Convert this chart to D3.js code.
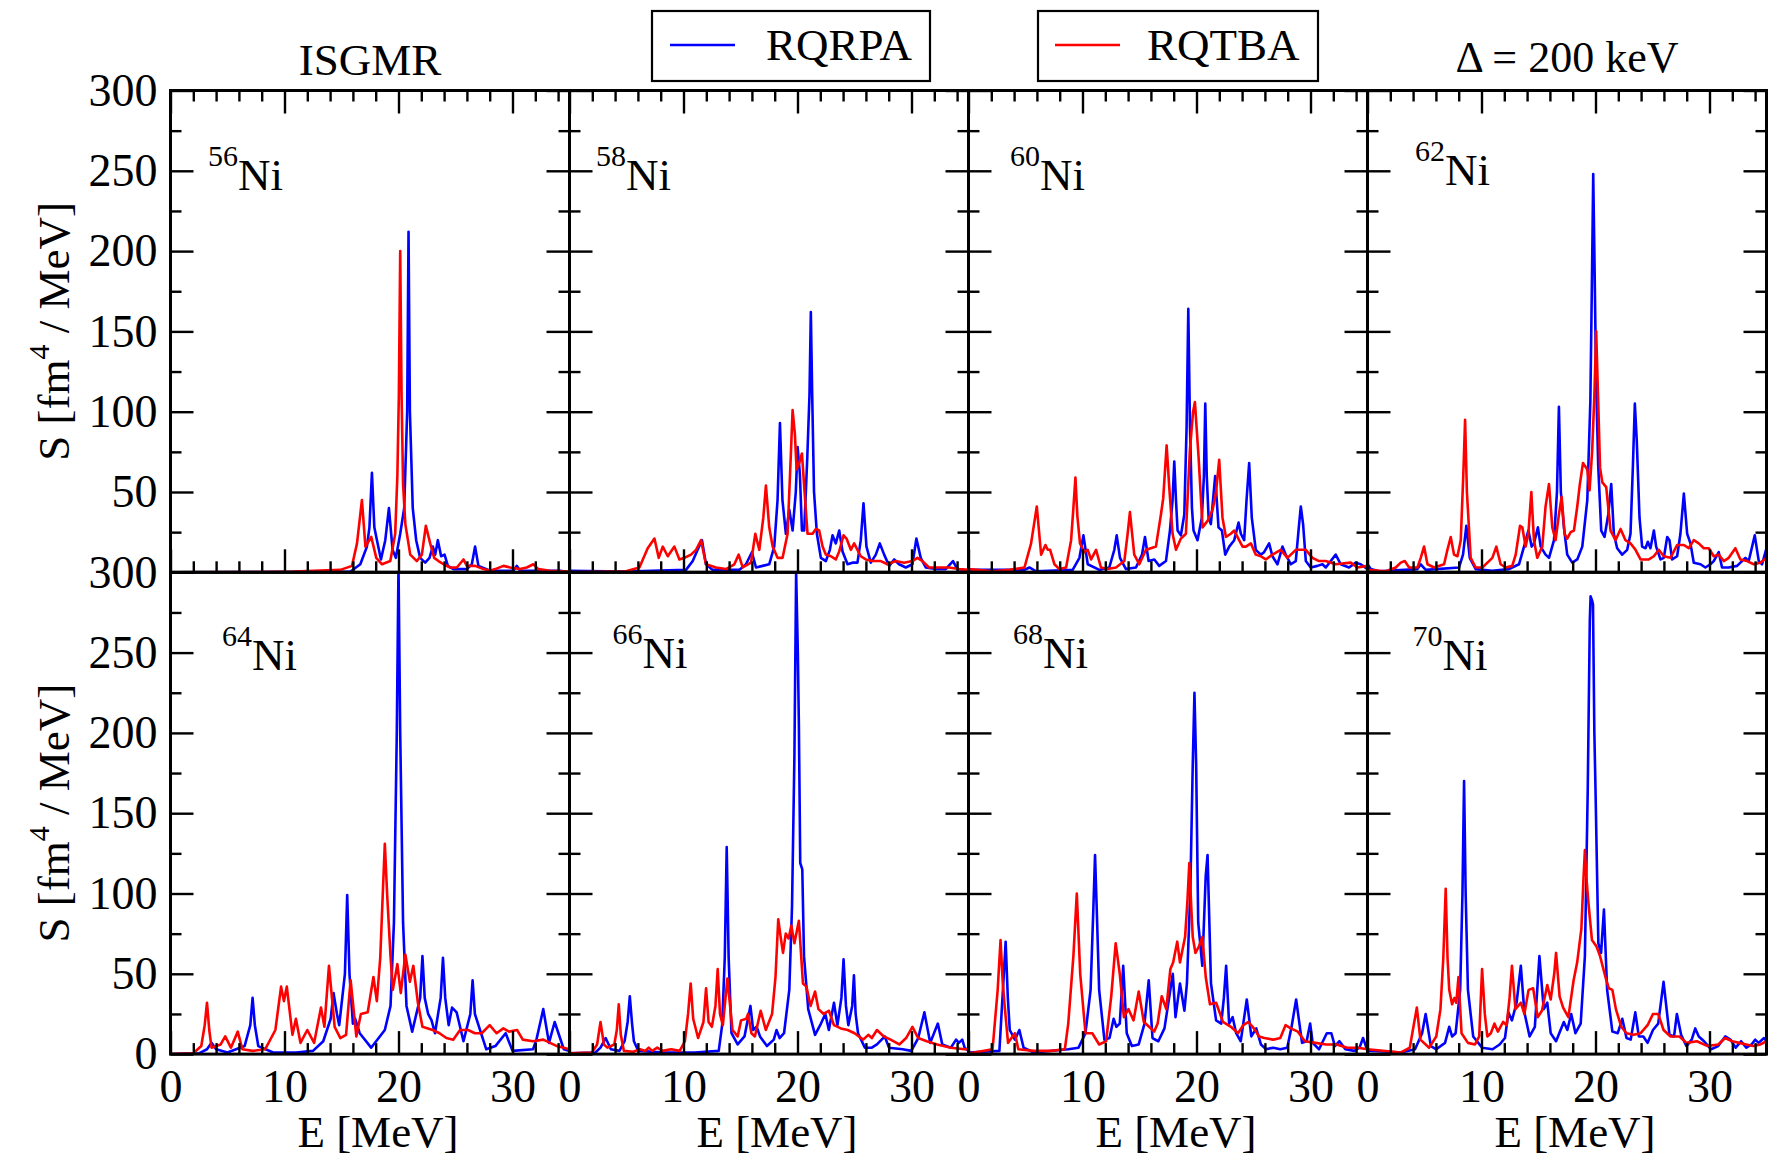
<!DOCTYPE html>
<html>
<head>
<meta charset="utf-8">
<script src="https://cdn.jsdelivr.net/npm/d3@7"></script>
<style>
  body { margin: 0; background: #fff; }
  svg { display: block; }
  text { font-family: "Liberation Serif", "Times New Roman", Times, serif; fill: #000; }
</style>
</head>
<body>
<svg id="chart" width="1779" height="1157"></svg>
<script>
// ---- data: ISGMR strength functions S(E) [fm^4/MeV], E in MeV ----
const nuclei = ["56", "58", "60", "62", "64", "66", "68", "70"];
const seriesNames = ["RQRPA", "RQTBA"];
const xTickValues = [0, 10, 20, 30];
const yTickTop = [50, 100, 150, 200, 250, 300];
const yTickBottom = [0, 50, 100, 150, 200, 250, 300];

const ni56_rqrpa = [[0,0],[14,0.3],[15.8,0.5],[16.65,5],[17.23,16],[17.45,28],[17.67,62],[17.88,28],[18.11,20],[18.46,8],[18.84,20],[19.16,40],[19.48,14],[19.77,9],[20.15,24],[20.5,40],[20.76,100],[20.88,212],[21.0,100],[21.25,40],[21.55,20],[21.9,9],[22.34,6],[22.72,9],[23.01,16],[23.22,11],[23.45,20],[23.74,10],[24.04,11],[24.33,4],[24.82,2],[25.99,2],[26.43,5],[26.72,16],[27.01,4],[28.04,1],[30.08,1],[30.37,4],[30.67,1],[34.17,1],[35,0]];
const ni56_rqtba = [[0,0],[8,0.2],[10.8,0.4],[14.9,1.5],[15.92,4],[16.36,18],[16.79,45],[17.1,16],[17.61,22],[18.05,9],[18.55,5],[19.28,7],[19.71,24],[19.9,60],[20.03,110],[20.15,200],[20.27,110],[20.4,55],[20.6,30],[21.03,11],[21.61,7],[22.05,11],[22.4,29],[22.78,18],[23.13,9],[23.51,7],[23.95,5],[24.53,3],[25.12,3],[25.7,8],[25.99,4],[26.72,4],[27.45,2],[28.04,1],[28.48,2],[29.21,4],[29.79,3],[30.67,2],[31.25,3],[31.83,5],[32.27,2],[33.29,1],[35,0.4]];

const ni58_rqrpa = [[0,1],[4.96,0.4],[10.22,1.5],[10.81,7],[11.24,14],[11.62,20],[11.97,5],[12.56,1.5],[14.89,1.5],[15.48,5],[16.0,12.5],[16.36,3],[16.94,4],[17.52,5],[17.96,16],[18.25,45],[18.46,93],[18.68,45],[18.98,24],[19.28,39],[19.57,26],[19.85,50],[20.01,78],[20.21,61],[20.39,26],[20.59,26],[20.85,70],[21.05,110],[21.17,162],[21.29,110],[21.45,50],[21.7,24],[22.05,9],[22.49,7],[22.84,14],[23.07,23],[23.36,18],[23.66,26],[23.95,13],[24.39,5],[24.82,6],[25.26,6],[25.55,20],[25.79,43],[26.05,16],[26.43,6],[26.87,11],[27.22,18],[27.6,11],[28.04,4],[28.48,8],[28.91,5],[29.5,3],[30.08,5],[30.43,21],[30.81,9],[31.25,3],[32.13,2],[33.0,2],[33.64,7],[34.02,2],[35,1]];
const ni58_rqtba = [[0,0],[4.96,0.6],[6.13,3],[6.86,15],[7.45,21],[7.83,9],[8.18,16],[8.62,10],[9.2,16],[9.64,8],[10.08,9],[10.66,11],[11.1,14],[11.54,20],[11.97,5],[12.85,3],[13.73,2],[14.46,5],[14.84,11],[15.19,3],[15.92,6],[16.3,24],[16.65,14],[17.0,34],[17.23,54],[17.52,28],[17.82,16],[18.25,9],[18.69,9],[19.13,24],[19.42,74],[19.57,101],[19.77,86],[19.92,64],[20.15,68],[20.39,74],[20.59,53],[20.88,24],[21.32,24],[21.61,27],[21.9,26],[22.2,16],[22.49,11],[22.93,10],[23.36,8],[23.66,13],[24.04,23],[24.3,21],[24.68,14],[24.97,18],[25.26,14],[25.55,10],[25.99,8],[26.58,7],[27.31,7],[27.89,5],[28.62,7],[29.35,6],[30.08,7],[30.52,9],[30.96,7],[31.54,3],[32.42,3],[33.29,3],[34.17,2],[35,1.5]];

const ni60_rqrpa = [[0,1.5],[4.91,1.5],[5.34,3],[5.93,0.6],[9.14,1.5],[9.73,9],[10.08,23],[10.46,5],[11.48,1.5],[12.35,3],[12.79,14],[13.0,23],[13.29,9],[13.81,2],[14.69,3],[15.22,11],[15.48,22],[15.8,7],[16.3,8],[16.73,4],[17.32,7],[17.67,26],[17.9,45],[18.05,69],[18.2,45],[18.34,26],[18.63,23],[18.93,36],[19.13,90],[19.28,164],[19.43,90],[19.6,40],[19.74,26],[20.09,20],[20.47,34],[20.65,60],[20.77,105],[20.9,60],[21.06,34],[21.26,30],[21.64,60],[21.93,28],[22.23,26],[22.52,11],[22.87,16],[23.31,20],[23.69,31],[23.89,24],[24.18,20],[24.39,45],[24.62,68],[24.85,34],[25.2,14],[25.64,11],[25.93,12.5],[26.37,18],[26.66,10],[27.1,5],[27.54,16],[27.83,11],[28.27,5],[28.71,7],[29.0,30],[29.15,41],[29.35,30],[29.59,7],[30.02,3],[30.61,4],[31.05,5],[31.34,3],[32.21,11],[32.65,5],[33.38,3],[33.97,6],[34.4,5],[35,2]];
const ni60_rqtba = [[0,2],[2.13,0.6],[3.59,1.5],[4.91,3],[5.49,18],[5.99,41],[6.37,11],[6.75,17],[6.95,14],[7.16,14],[7.54,5],[7.97,2],[8.56,3],[9.0,20],[9.2,40],[9.38,59],[9.55,35],[9.78,18],[10.16,12.5],[10.46,14],[10.75,8],[11.19,14],[11.62,3],[12.21,2],[12.94,3],[13.67,7],[13.96,24],[14.16,37.5],[14.54,11],[14.98,5],[15.57,14],[16.0,15],[16.44,16],[16.88,36],[17.08,46],[17.38,79],[17.61,53],[17.9,24],[18.2,14],[18.63,21],[19.07,24],[19.42,76],[19.7,100],[19.86,106],[20.18,72],[20.53,28],[20.97,32],[21.41,39],[21.7,49],[21.99,70],[22.28,34],[22.58,22],[23.01,24],[23.31,26],[23.74,20],[24.04,16],[24.33,16],[24.77,18],[25.2,11],[25.64,10],[26.08,8],[26.66,11],[27.39,14],[27.98,9],[28.71,14],[29.59,14],[30.17,9],[30.75,7],[31.34,7],[32.21,5],[33.53,6],[34.11,3],[35,4]];

const ni62_rqrpa = [[0,5],[0.29,2],[1.02,0.6],[4.38,2],[4.67,5],[5.11,1.5],[8.03,3],[8.38,11],[8.67,29],[8.97,9],[9.49,2],[10.95,1],[12.41,2],[13.29,5],[13.73,16],[14.11,26],[14.4,16],[14.6,18],[14.95,28],[15.19,16],[15.62,11],[15.92,9],[16.36,20],[16.62,50],[16.79,103],[16.96,50],[17.23,28],[17.52,11],[17.96,6],[18.4,8],[18.84,16],[19.28,45],[19.55,107],[19.72,200],[19.8,248],[19.9,200],[20.05,120],[20.24,66],[20.5,26],[20.79,22],[21.12,36],[21.38,55],[21.61,24],[21.9,15],[22.34,11],[22.78,14],[23.07,24],[23.28,66],[23.45,105],[23.62,82],[23.86,34],[24.09,16],[24.39,15],[24.59,19],[24.82,15],[25.12,26],[25.32,16],[25.7,8],[25.99,9],[26.29,22],[26.49,20],[26.72,8],[27.16,10],[27.45,24],[27.75,49],[28.04,24],[28.33,18],[28.62,6],[29.21,5],[29.64,3],[30.08,5],[30.37,7],[30.81,12.5],[31.1,3],[31.69,3],[32.42,4],[33.15,9],[33.44,7],[33.97,23],[34.32,7],[34.61,5],[35,15]];
const ni62_rqtba = [[0,1.5],[1.61,0.6],[2.48,3],[2.92,6],[3.27,7],[3.65,3],[4.38,3],[4.67,9],[4.96,16],[5.26,5],[5.84,3],[6.72,5],[7.01,14],[7.3,22],[7.59,11],[7.89,10],[8.18,20],[8.4,60],[8.56,95],[8.72,50],[9.05,9],[9.49,3],[10.08,3],[10.66,7],[10.95,9],[11.3,16],[11.68,5],[12.12,3],[12.7,4],[13.0,11],[13.38,29],[13.58,28],[13.87,16],[14.11,24],[14.37,50],[14.6,20],[14.89,9],[15.33,16],[15.62,41],[15.92,55],[16.21,28],[16.5,20],[16.79,36],[17.03,47],[17.29,24],[17.52,21],[17.82,25],[18.11,26],[18.4,41],[18.63,55],[18.9,68],[19.28,64],[19.48,51],[19.71,76],[19.9,110],[20.06,150],[20.22,110],[20.4,65],[20.6,56],[20.94,53],[21.32,26],[21.76,20],[22.2,27],[22.63,20],[23.07,18],[23.51,14],[23.95,8],[24.68,8],[25.12,10],[25.55,14],[25.99,10],[26.58,9],[27.16,17],[27.75,17],[28.18,15],[28.62,20],[29.06,18],[29.5,15],[29.94,15],[30.37,10],[30.81,11],[31.25,7],[31.69,9],[32.27,15],[32.71,8],[33.29,7],[33.88,5],[34.46,6],[35,9]];

const ni64_rqrpa = [[0,0],[2.5,0.5],[3.2,3],[3.6,7],[4.0,3],[5,1],[6.5,5],[7.0,18],[7.2,35],[7.4,18],[7.7,5],[9,1],[11,1],[12.5,2],[13.4,8],[14.05,22],[14.3,38],[14.6,25],[14.8,18],[15.3,50],[15.5,99],[15.7,50],[16.0,19],[16.2,22],[16.6,13],[17.6,4],[18.8,15],[19.3,30],[19.6,82],[19.85,200],[20.0,305],[20.15,200],[20.4,82],[20.7,30],[21.2,14],[21.9,35],[22.1,61],[22.3,35],[22.6,25],[22.9,21],[23.2,13],[23.7,35],[23.9,60],[24.1,35],[24.4,18],[24.7,29],[25.1,26],[25.7,8],[26.3,25],[26.5,46],[26.7,25],[27.7,3],[28.5,5],[29.4,13],[30.0,2],[31.8,3],[32.1,9],[32.7,28],[33.2,7],[33.7,20],[34.5,3],[35,2]];
const ni64_rqtba = [[0,0],[2.0,0.5],[2.7,5],[3.0,18],[3.2,32],[3.4,15],[3.6,4],[4.4,6],[4.8,11],[5.3,4],[5.9,14],[6.3,3],[7.2,2],[8.3,3],[9.2,15],[9.7,42],[9.95,33],[10.2,42],[10.7,12],[11.0,22],[11.4,7],[12.0,15],[12.6,7],[13.2,29],[13.5,17],[13.9,55],[14.4,17],[14.9,10],[15.4,12],[15.8,46],[16.3,11],[16.7,25],[17.3,26],[17.8,48],[18.1,33],[18.4,60],[18.65,105],[18.8,131],[19.0,100],[19.3,61],[19.5,40],[19.9,56],[20.2,38],[20.6,62],[21.0,45],[21.3,55],[21.7,32],[22.1,17],[23.0,15],[23.6,13],[24.2,10],[24.8,9],[25.4,15],[26.1,15],[26.7,13],[27.3,13],[28.0,18],[28.6,13],[29.2,16],[29.7,14],[30.4,15],[30.9,9],[31.8,8],[32.7,9],[33.3,7],[33.9,5],[35,3]];

const ni66_rqrpa = [[0,0.5],[2.27,1],[2.72,4],[3.17,10],[3.63,3],[4.38,2],[4.83,8],[5.1,20],[5.29,36],[5.5,18],[5.65,8],[6.04,2],[8.31,1],[11.0,1],[13.09,2],[13.39,18],[13.62,60],[13.79,129],[13.96,60],[14.21,13],[14.75,6],[15.35,11],[15.87,30],[16.11,15],[16.41,17],[16.71,11],[17.32,5],[17.92,9],[18.16,15],[18.43,10],[18.82,13],[19.28,40],[19.52,92],[19.73,186],[19.88,300],[20.03,250],[20.12,206],[20.24,119],[20.42,115],[20.57,61],[20.94,28],[21.54,12],[21.99,18],[22.44,25],[22.75,15],[23.2,32],[23.5,18],[23.85,35],[24.04,59],[24.25,30],[24.46,18],[24.8,30],[24.95,49],[25.1,25],[25.31,13],[25.91,4],[26.52,4],[26.97,6],[27.66,11],[28.02,4],[29.23,3],[29.98,2],[30.59,10],[31.13,26],[31.64,7],[32.31,19],[32.7,6],[33.45,4],[33.91,9],[34.15,7],[34.45,9],[34.66,4],[35,2]];
const ni66_rqtba = [[0,0.5],[1.96,1],[2.42,6],[2.72,20],[3.02,6],[3.32,4],[3.93,6],[4.15,15],[4.32,31],[4.5,12],[4.77,2],[5.59,1.5],[6.19,3],[6.65,2],[6.95,4],[7.25,2],[7.7,4],[8.16,2],[8.91,3],[9.67,2],[10.12,8],[10.4,25],[10.63,44],[10.85,22],[11.28,10],[11.75,20],[11.98,41],[12.2,20],[12.49,17],[12.8,30],[13.0,53],[13.2,25],[13.45,18],[13.85,47],[14.3,15],[14.75,11],[15.05,21],[15.51,22],[15.66,25],[15.96,13],[16.26,11],[16.77,27],[17.22,15],[17.77,25],[18.07,48],[18.31,84],[18.52,73],[18.73,63],[18.97,75],[19.22,72],[19.46,80],[19.73,69],[20.12,83],[20.48,44],[20.78,42],[21.15,30],[21.54,39],[21.84,28],[22.29,25],[22.75,27],[23.2,18],[23.8,16],[24.4,15],[25.01,13],[25.76,9],[26.21,12],[26.52,10],[26.97,15],[27.57,11],[28.17,9],[28.93,6],[29.53,10],[30.08,17],[30.59,10],[31.34,8],[32.25,6],[33.45,4],[34.66,3],[35,3]];

const ni68_rqrpa = [[0,1],[2.71,2],[3.02,40],[3.26,70],[3.45,35],[3.62,15],[4.07,9],[4.46,15],[4.83,4],[5.73,1],[8.75,3],[9.65,4],[10.26,13],[10.71,40],[10.95,90],[11.1,124],[11.25,90],[11.46,40],[11.92,9],[12.37,10],[12.73,22],[12.97,17],[13.27,19],[13.57,55],[13.88,13],[14.33,5],[14.93,6],[15.44,19],[15.81,46],[16.14,10],[16.65,8],[17.19,16],[17.92,50],[18.16,23],[18.55,44],[18.94,27],[19.16,44],[19.46,102],[19.67,180],[19.82,225],[19.97,180],[20.15,82],[20.51,55],[20.81,111],[20.97,124],[21.27,44],[21.72,21],[22.17,19],[22.4,35],[22.6,55],[22.86,19],[23.17,23],[23.48,13],[23.88,8],[24.41,34],[24.81,11],[25.24,16],[25.65,6],[26.11,3],[26.73,4],[27.35,3],[27.96,4],[28.34,17],[28.74,34],[29.26,7],[29.66,8],[29.97,19],[30.19,7],[30.75,3],[31.43,13],[31.83,13],[32.14,5],[32.54,8],[33.06,3],[33.84,2],[34.3,4],[34.61,10],[35,2]];
const ni68_rqtba = [[0,0.3],[2.11,3],[2.56,40],[2.81,71],[3.0,45],[3.17,30],[3.47,7],[4.07,13],[4.37,3],[5.73,2],[7.24,2],[8.45,3],[8.75,19],[9.2,61],[9.5,100],[9.8,50],[10.26,13],[10.86,13],[11.46,6],[12.07,8],[12.52,36],[12.91,69],[13.27,50],[13.63,23],[14.03,28],[14.48,21],[14.93,39],[15.38,20],[15.84,17],[16.29,14],[16.59,19],[16.95,36],[17.35,28],[17.71,53],[17.95,57],[18.31,70],[18.55,57],[19.0,73],[19.2,95],[19.37,119],[19.55,90],[19.67,73],[19.91,63],[20.21,67],[20.51,73],[20.81,48],[21.18,31],[21.72,32],[22.32,20],[23.02,17],[23.64,13],[24.1,18],[24.56,20],[25.03,16],[25.49,11],[25.95,10],[26.73,9],[27.35,10],[27.81,18],[28.27,16],[28.89,14],[29.51,8],[30.44,7],[31.36,6],[32.29,6],[33.22,4],[34.15,4],[35,3]];

const ni70_rqrpa = [[0,2],[0.46,2],[2.94,1],[4.17,3],[4.79,13],[5.1,25],[5.56,5],[6.03,3],[6.8,7],[7.17,17],[7.42,11],[7.73,13],[8.13,40],[8.33,100],[8.47,170],[8.61,100],[8.81,40],[9.27,11],[10.05,4],[10.97,3],[11.59,6],[12.06,10],[12.36,26],[12.67,21],[13.08,32],[13.45,55],[13.76,26],[14.22,11],[14.68,17],[15.08,61],[15.46,28],[15.77,32],[16.07,13],[16.54,8],[17.22,20],[17.53,15],[17.87,25],[18.24,13],[18.7,19],[19.07,61],[19.32,165],[19.5,270],[19.57,285],[19.72,282],[19.78,280],[19.9,200],[20.0,165],[20.25,69],[20.49,63],[20.74,90],[21.02,40],[21.48,14],[21.95,13],[22.35,22],[22.72,10],[23.09,9],[23.49,26],[23.8,11],[24.2,11],[24.57,7],[25.04,15],[25.5,19],[25.97,45],[26.49,12],[26.89,11],[27.14,25],[27.51,12],[27.98,5],[28.44,9],[28.75,16],[29.06,11],[29.52,8],[30.14,3],[30.76,5],[31.38,11],[31.84,9],[32.3,4],[32.77,8],[33.23,4],[33.69,6],[34.0,9],[34.31,7],[34.78,10],[35,8]];
const ni70_rqtba = [[0,3],[2.94,1],[3.71,4],[4.08,19],[4.33,29],[4.64,9],[5.41,4],[6.03,11],[6.4,28],[6.65,60],[6.86,103],[7.02,60],[7.17,40],[7.42,31],[7.63,35],[7.79,32],[7.98,48],[8.25,13],[8.81,7],[9.43,6],[9.8,11],[10.05,53],[10.29,25],[10.51,11],[10.82,13],[11.13,19],[11.44,14],[11.9,20],[12.21,18],[12.46,35],[12.67,55],[12.98,28],[13.45,32],[13.76,25],[14.13,40],[14.53,41],[14.93,23],[15.3,27],[15.77,43],[16.07,34],[16.38,50],[16.54,63],[16.85,36],[17.16,29],[17.62,23],[18.08,46],[18.39,57],[18.76,78],[18.95,110],[19.07,127],[19.2,110],[19.38,94],[19.69,71],[20.09,67],[20.4,61],[20.87,48],[21.17,41],[21.48,40],[21.79,28],[22.26,17],[22.72,13],[23.34,12],[23.96,13],[24.57,18],[25.04,25],[25.5,25],[25.97,15],[26.58,11],[27.36,11],[27.98,7],[28.9,8],[29.83,5],[30.76,6],[31.38,10],[31.99,8],[32.61,7],[33.23,6],[33.85,5],[34.47,6],[35,8]];

const rqrpaSets = [ni56_rqrpa, ni58_rqrpa, ni60_rqrpa, ni62_rqrpa, ni64_rqrpa, ni66_rqrpa, ni68_rqrpa, ni70_rqrpa];
const rqtbaSets = [ni56_rqtba, ni58_rqtba, ni60_rqtba, ni62_rqtba, ni64_rqtba, ni66_rqtba, ni68_rqtba, ni70_rqtba];

// ---- layout ----
const FONT = '"Liberation Serif", "Times New Roman", Times, serif';
const left0 = 170.5, panelW = 399, top0 = 90.5, panelH = 481.8;
const labelPos = [[37.5, 99.5], [26.5, 99.5], [41.5, 99.5], [47.5, 94], [51.5, 98], [43, 96], [44.5, 96], [45, 98]];
const colors = { RQRPA: "#0000ff", RQTBA: "#ff0000" };
const tickFont = 46;

const svg = d3.select("#chart");
svg.append("rect").attr("width", 1779).attr("height", 1157).attr("fill", "#fff");

const line = (x, y) => d3.line().x(d => x(d[0])).y(d => y(d[1]));

nuclei.forEach((A, i) => {
  const col = i % 4, row = Math.floor(i / 4);
  const px = left0 + col * panelW, py = top0 + row * panelH;
  const x = d3.scaleLinear().domain([0, 35]).range([px, px + panelW]);
  const y = d3.scaleLinear().domain([0, 300]).range([py + panelH, py]);
  const g = svg.append("g").attr("class", "panel");

  const clipId = "clip" + A;
  svg.append("clipPath").attr("id", clipId)
    .append("rect").attr("x", px).attr("y", py).attr("width", panelW).attr("height", panelH);

  const curves = g.append("g").attr("clip-path", `url(#${clipId})`);
  curves.append("path").datum(rqrpaSets[i])
    .attr("d", line(x, y)).attr("fill", "none")
    .attr("stroke", colors.RQRPA).attr("stroke-width", 2.6).attr("stroke-linejoin", "round");
  curves.append("path").datum(rqtbaSets[i])
    .attr("d", line(x, y)).attr("fill", "none")
    .attr("stroke", colors.RQTBA).attr("stroke-width", 2.6).attr("stroke-linejoin", "round");

  const majorX = xTickValues, minorX = d3.range(2, 35, 2).filter(v => v % 10 !== 0);
  const majorY = yTickBottom, minorY = d3.range(25, 300, 50);
  const styleAxis = sel => {
    sel.select(".domain").remove();
    sel.selectAll(".tick line").attr("stroke", "#000").attr("stroke-width", 2.4);
    sel.selectAll("text").attr("font-family", FONT).attr("font-size", tickFont).attr("fill", "#000");
  };

  // bottom ticks (inward), labels on lower row only
  g.append("g").attr("transform", `translate(0,${py + panelH})`)
    .call(d3.axisBottom(x).tickValues(majorX).tickSize(-23).tickPadding(15)
      .tickFormat(row === 1 ? d3.format("d") : () => ""))
    .call(styleAxis);
  g.append("g").attr("transform", `translate(0,${py + panelH})`)
    .call(d3.axisBottom(x).tickValues(minorX).tickSize(-11).tickFormat(() => ""))
    .call(styleAxis);
  // top ticks on the upper row
  if (row === 0) {
    g.append("g").attr("transform", `translate(0,${py})`)
      .call(d3.axisTop(x).tickValues(majorX).tickSize(-23).tickFormat(() => ""))
      .call(styleAxis);
    g.append("g").attr("transform", `translate(0,${py})`)
      .call(d3.axisTop(x).tickValues(minorX).tickSize(-11).tickFormat(() => ""))
      .call(styleAxis);
  }
  // left and right ticks
  const yLabels = row === 0 ? yTickTop : yTickBottom;
  g.append("g").attr("transform", `translate(${px},0)`)
    .call(d3.axisLeft(y).tickValues(majorY).tickSize(-23).tickPadding(13)
      .tickFormat(v => (col === 0 && yLabels.includes(v)) ? String(v) : ""))
    .call(styleAxis);
  g.append("g").attr("transform", `translate(${px},0)`)
    .call(d3.axisLeft(y).tickValues(minorY).tickSize(-11).tickFormat(() => ""))
    .call(styleAxis);
  g.append("g").attr("transform", `translate(${px + panelW},0)`)
    .call(d3.axisRight(y).tickValues(majorY).tickSize(-23).tickFormat(() => ""))
    .call(styleAxis);
  g.append("g").attr("transform", `translate(${px + panelW},0)`)
    .call(d3.axisRight(y).tickValues(minorY).tickSize(-11).tickFormat(() => ""))
    .call(styleAxis);
  // drop the empty label nodes left by the unlabeled tick sets
  g.selectAll(".tick text").filter(function () { return this.textContent === ""; }).remove();

  // frame
  g.append("rect").attr("x", px).attr("y", py).attr("width", panelW).attr("height", panelH)
    .attr("fill", "none").attr("stroke", "#000").attr("stroke-width", 3);

  // nucleus label
  const [lx, ly] = labelPos[i];
  const t = g.append("text").attr("x", px + lx).attr("y", py + ly).attr("font-size", 45);
  t.append("tspan").attr("font-size", 30).attr("dy", -24).text(A);
  t.append("tspan").attr("dy", 24).text("Ni");

  // axis titles
  if (row === 1) {
    svg.append("text").attr("x", px + panelW / 2 + 8).attr("y", 1147)
      .attr("text-anchor", "middle").attr("font-size", 45).text("E [MeV]");
  }
  if (col === 0) {
    const ty = py + panelH / 2;
    const yt = svg.append("text").attr("transform", `translate(69,${ty}) rotate(-90)`)
      .attr("text-anchor", "middle").attr("font-size", 45);
    yt.append("tspan").text("S [fm");
    yt.append("tspan").attr("font-size", 30).attr("dy", -20).text("4");
    yt.append("tspan").attr("dy", 20).text(" / MeV]");
  }
});

// headings
svg.append("text").attr("x", left0 + panelW / 2).attr("y", 75)
  .attr("text-anchor", "middle").attr("font-size", 45).text("ISGMR");
svg.append("text").attr("x", left0 + 3.5 * panelW).attr("y", 72)
  .attr("text-anchor", "middle").attr("font-size", 44).text("\u0394 = 200 keV");

// legend boxes
const legend = [
  { name: seriesNames[0], box: [652, 11, 278, 70], line: [670, 735], tx: 766 },
  { name: seriesNames[1], box: [1038, 11, 280, 70], line: [1055, 1120], tx: 1147 }
];
legend.forEach(d => {
  const lg = svg.append("g");
  lg.append("rect").attr("x", d.box[0]).attr("y", d.box[1]).attr("width", d.box[2]).attr("height", d.box[3])
    .attr("fill", "#fff").attr("stroke", "#000").attr("stroke-width", 2.2);
  lg.append("line").attr("x1", d.line[0]).attr("x2", d.line[1]).attr("y1", 45).attr("y2", 45)
    .attr("stroke", colors[d.name]).attr("stroke-width", 2.6);
  lg.append("text").attr("x", d.tx).attr("y", 60).attr("font-size", 45).text(d.name);
});
</script>
</body>
</html>
